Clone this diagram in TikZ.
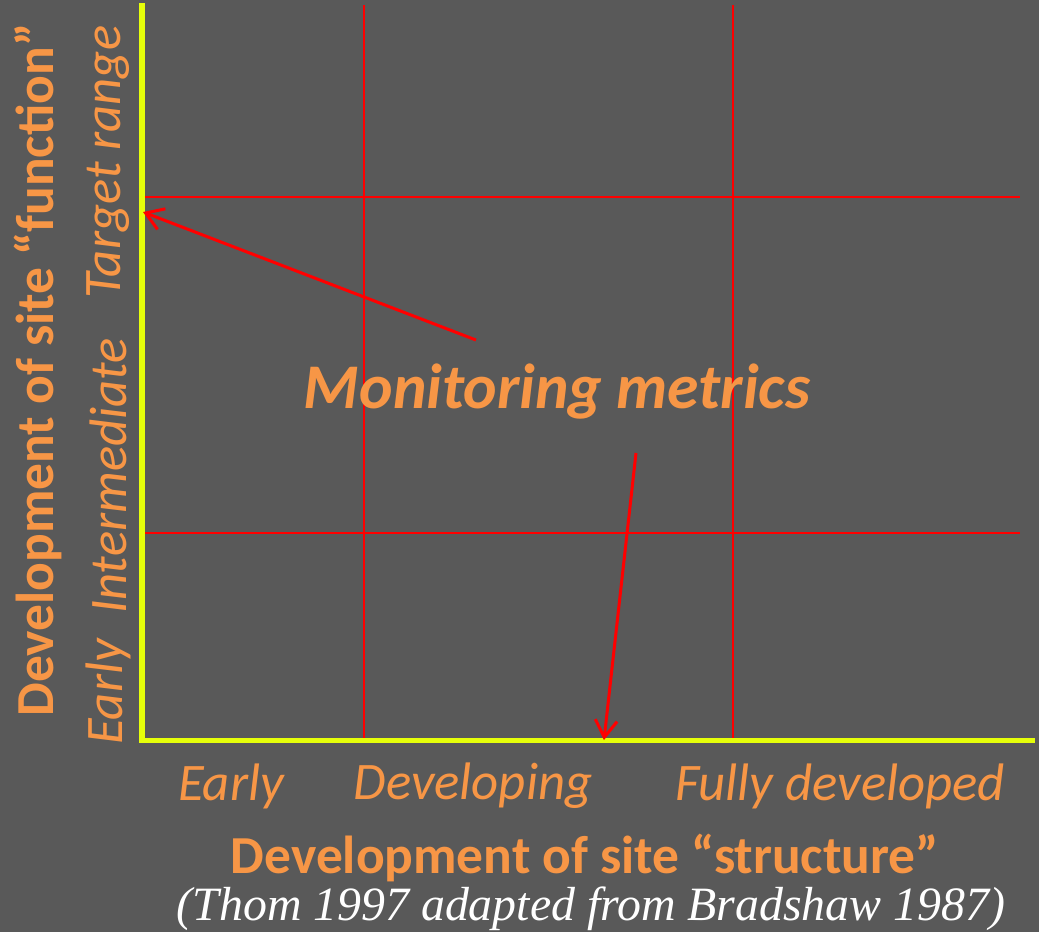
\documentclass[tikz,border=0pt]{standalone}
\usepackage{fontspec}
\setmainfont{Carlito}
\newfontfamily\citefont{Liberation Serif}
\usetikzlibrary{arrows.meta}
\definecolor{SlideGray}{HTML}{595959}
\definecolor{AxisYellow}{HTML}{E6FF0A}
\definecolor{LabelOrange}{HTML}{F79646}
\definecolor{GridRed}{HTML}{FF0000}

\begin{document}
\begin{tikzpicture}[
    x=0.01cm, y=-0.01cm,
    axis/.style={draw=AxisYellow, line width=0.05cm},
    grid/.style={draw=GridRed, line width=0.025cm},
    pointer/.style={-{Straight Barb[length=1.7mm, width=2.2mm, line width=0.03cm]}, draw=GridRed, line width=0.03cm},
    stage/.style={text=LabelOrange, font=\fontsize{15pt}{17pt}\selectfont\itshape, inner sep=0pt},
    title/.style={text=LabelOrange, font=\fontsize{15.2pt}{17pt}\selectfont\bfseries, inner sep=0pt}
  ]
    \fill[SlideGray] (0,0) rectangle (1039,932);

    % grid of stages
    \draw[grid] (364,5) -- (364,740);
    \draw[grid] (733,5) -- (733,740);
    \draw[grid] (142,197) -- (1020,197);
    \draw[grid] (142,533) -- (1020,533);

    % axes
    \draw[axis] (142,3) -- (142,740) -- (1035,740);

    % stage labels
    \node[stage, rotate=90] (fearly) at (108,692) {Early};
    \node[stage, rotate=90] (finter) at (108,476) {Intermediate};
    \node[stage, rotate=90] (ftarget) at (108,162) {Target range};
    \node[stage] (searly) at (231,786) {Early};
    \node[stage] (sdevel) at (473,786) {Developing};
    \node[stage] (sfull) at (840,786) {Fully developed};

    % axis titles
    \node[title, rotate=90] (ytitle) at (38,370) {Development of site “function”};
    \node[title] (xtitle) at (585,858) {Development of site “structure”};
    \node[text=white, font=\fontsize{13.6pt}{15pt}\citefont\itshape, inner sep=0pt] (cite) at (591,909)
      {(Thom 1997 adapted from Bradshaw 1987)};

    % monitoring arrows
    \node[text=LabelOrange, font=\fontsize{18.1pt}{20pt}\selectfont\bfseries\itshape, inner sep=0pt] (metrics) at (557,392) {Monitoring metrics};
    \coordinate (upfrom) at (476,340);
    \coordinate (upto) at (143,212);
    \coordinate (downfrom) at (636,453);
    \coordinate (downto) at (604,740);
    \draw[pointer] (upfrom) -- (upto);
    \draw[pointer] (downfrom) -- (downto);
\end{tikzpicture}
\end{document}
